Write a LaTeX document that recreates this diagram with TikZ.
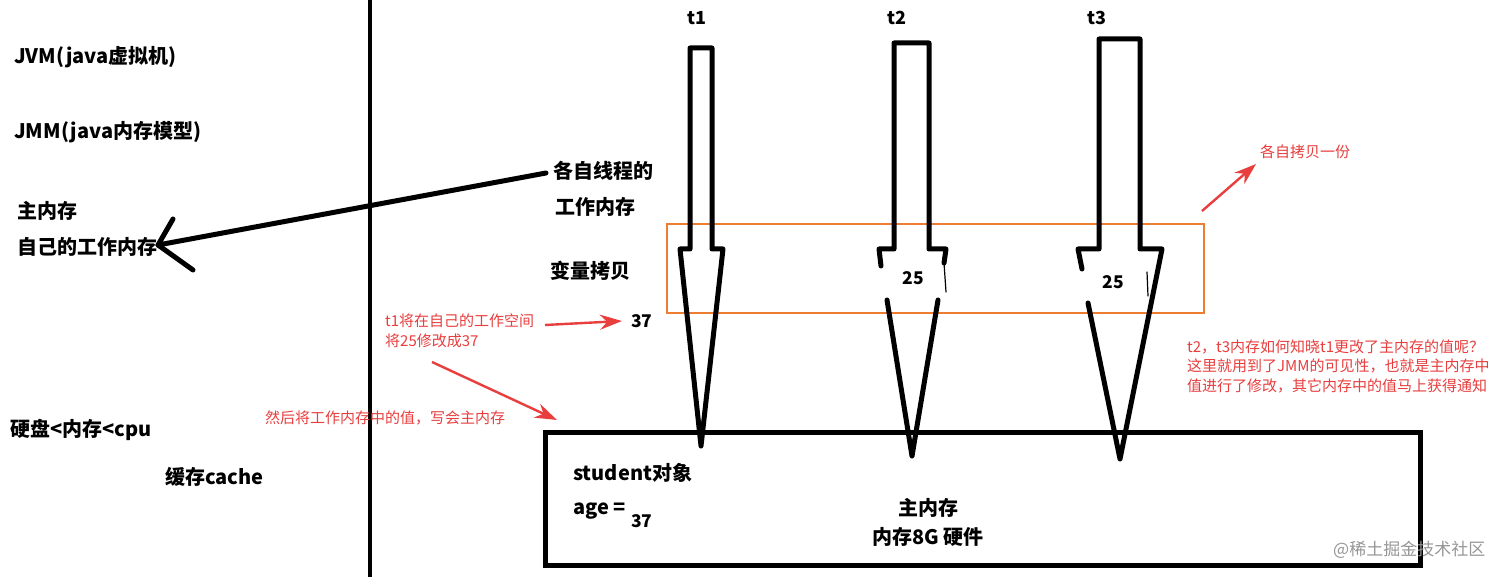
\documentclass[tikz,border=0pt]{standalone}
\usepackage{fontspec}
\setmainfont{Noto Sans CJK SC}
\usetikzlibrary{arrows.meta}
\definecolor{redtxt}{RGB}{232,62,62}
\definecolor{orangebox}{RGB}{237,125,49}
\definecolor{wmgray}{RGB}{150,150,150}
\begin{document}
\begin{tikzpicture}[x=1pt,y=-1pt,
  lbl/.style={font=\bfseries\fontsize{20}{22}\selectfont, inner sep=0pt, anchor=west},
  tlbl/.style={font=\bfseries\fontsize{18}{20}\selectfont, inner sep=0pt},
  num/.style={font=\bfseries\fontsize{17.5}{20}\selectfont, inner sep=0pt},
  note/.style={font=\fontsize{15}{19.5}\selectfont, text=redtxt, inner sep=0pt, anchor=west, align=left},
  heavy/.style={line width=5pt, line join=round, line cap=round},
  hair/.style={line width=1.2pt, line cap=round},
  redarrow/.style={draw=redtxt, line width=2.4pt, -{Stealth[length=22pt,width=15pt]}},
]
\useasboundingbox (0,0) rectangle (1512,577);
\fill[white] (0,0) rectangle (1512,577);

% separator
\draw[line width=4pt] (370,0) -- (370,577);

% left texts
\node[lbl] (jvm) at (14,57) {JVM(java虚拟机)};
\node[lbl] (jmm) at (14,132) {JMM(java内存模型)};
\node[lbl] (mainmem) at (17,211) {主内存};
\node[lbl] (selfwm) at (17,247) {自己的工作内存};
\node[lbl] (hier) at (10,430) {硬盘<内存<cpu};
\node[lbl] (cache) at (165,477) {缓存cache};

% middle texts
\node[lbl] (thr1) at (553,171) {各自线程的};
\node[lbl] (thr2) at (555,207) {工作内存};
\node[lbl] (varcp) at (550,271) {变量拷贝};
\node[num, anchor=west] (n37) at (631,321) {37};

% big black arrow
\coordinate (bigtail) at (546,173);
\coordinate (bigtip) at (158,245);
\coordinate (armA) at (173,219);
\coordinate (armB) at (193,270);
\draw[heavy] (bigtail) -- (bigtip);
\draw[heavy] (armA) -- (bigtip) -- (armB);

% orange box
\draw[orangebox, line width=2pt] (667,224) rectangle (1204,313);

% main memory box
\draw[line width=5pt] (545,432) rectangle (1420,565);
\node[lbl, anchor=west] (student) at (573,473) {student对象};
\node[lbl, anchor=west] (age) at (573,511) {age =};
\node[num, anchor=west] (age37) at (631,521) {37};
\node[lbl, anchor=center] (mm1) at (928,508) {主内存};
\node[lbl, anchor=center] (mm2) at (928,537) {内存8G 硬件};

% thread labels
\node[tlbl] (t1) at (697,18) {t1};
\node[tlbl] (t2) at (897,18) {t2};
\node[tlbl] (t3) at (1097,18) {t3};

% thread t1 arrow
\draw[heavy] (680,249) -- (690,249) -- (690,48) -- (712,48) -- (712,249) -- (723,249) -- (701,446) -- cycle;

% thread t2 arrow (broken)
\draw[heavy] (881,266) -- (879,249) -- (894,249) -- (894,43) -- (929,43) -- (929,249) -- (946,249) -- (944,263);
\draw[hair] (944,263) -- (946,292);
\draw[heavy] (887,300) -- (912,456) -- (938,300);
\node[num] (v25a) at (913,278) {25};

% thread t3 arrow (broken)
\draw[heavy] (1082,269) -- (1078,249) -- (1099,249) -- (1099,39) -- (1140,39) -- (1140,249) -- (1162,249) -- (1120,459) -- (1088,303);
\draw[hair] (1147,272) -- (1148,296);
\node[num] (v25b) at (1113,282) {25};

% red notes
\node[note] (t1note) at (385,331) {t1将在自己的工作空间\\将25修改成37};
\node[note] (writeback) at (265,418) {然后将工作内存中的值，写会主内存};
\node[note] (copyeach) at (1260,152) {各自拷贝一份};
\node[note, align=left] (visib) at (1187,366) {t2，t3内存如何知晓t1更改了主内存的值呢？\\这里就用到了JMM的可见性，也就是主内存中\\值进行了修改，其它内存中的值马上获得通知};

% red arrows
\coordinate (r1s) at (545,325);
\coordinate (r1e) at (622,321);
\draw[redarrow] (r1s) -- (r1e);
\coordinate (r2s) at (432,362);
\coordinate (r2e) at (557,420);
\draw[redarrow] (r2s) -- (r2e);
\coordinate (r3s) at (1202,211);
\coordinate (r3e) at (1256,164);
\draw[redarrow] (r3s) -- (r3e);

% watermark
\node[font=\fontsize{17}{20}\selectfont, text=wmgray, inner sep=0pt, anchor=west] (wm) at (1333,550) {@稀土掘金技术社区};
\end{tikzpicture}
\end{document}
